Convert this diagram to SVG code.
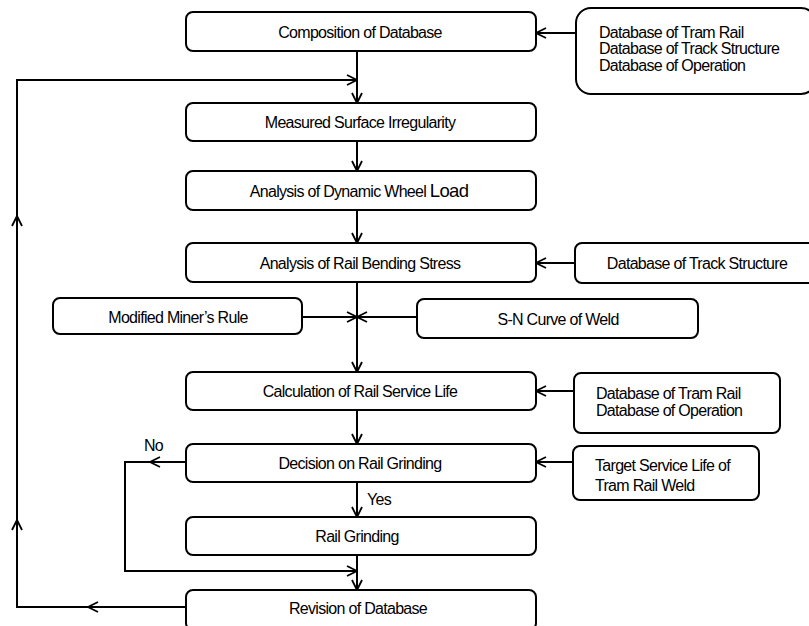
<svg xmlns="http://www.w3.org/2000/svg" width="809" height="626" viewBox="0 0 809 626">
<defs>
<marker id="ah" viewBox="0 0 12 12" refX="11" refY="6" markerWidth="12" markerHeight="12" markerUnits="userSpaceOnUse" orient="auto">
<path d="M1,1 L11,6 L1,11" fill="none" stroke="#000" stroke-width="1.8"/>
</marker>
<style>
.b{fill:#fff;stroke:#000;stroke-width:2}
.t{font-family:"Liberation Sans",Arial,sans-serif;font-size:16px;letter-spacing:-0.7px;fill:#000}
.m{text-anchor:middle}
.c{fill:none;stroke:#000;stroke-width:2}
.a{marker-end:url(#ah)}
</style>
</defs>
<rect width="809" height="626" fill="#fff"/>
<g id="connectors">
<path class="c a" d="M357,51 V103"/>
<path class="c" d="M186,607 H17 V80 H357"/>
<path class="c a" d="M120,607 H88"/>
<path class="c a" d="M17,540 V520"/>
<path class="c a" d="M17,240 V216"/>
<path class="c a" d="M330,80 H357"/>
<path class="c a" d="M357,141 V171"/>
<path class="c a" d="M357,210 V243"/>
<path class="c a" d="M357,282 V372"/>
<path class="c a" d="M302,317 H357"/>
<path class="c a" d="M417,317 H357"/>
<path class="c a" d="M357,410 V444"/>
<path class="c a" d="M357,482 V517"/>
<path class="c a" d="M357,555 V590"/>
<path class="c" d="M186,462 H125 V571 H357"/>
<path class="c a" d="M186,462 H150"/>
<path class="c a" d="M330,571 H357"/>
<path class="c a" d="M576,33 H536"/>
<path class="c a" d="M575,263 H536"/>
<path class="c a" d="M574,391 H536"/>
<path class="c a" d="M573,462 H536"/>
<text class="t" x="144" y="451">No</text>
<text class="t" x="367" y="505">Yes</text>
</g>
<g id="n1"><rect class="b" x="186" y="12" width="350" height="39" rx="7"/><text class="t m" x="360" y="38">Composition of Database</text></g>
<g id="n2"><rect class="b" x="186" y="103" width="350" height="38" rx="7"/><text class="t m" x="360" y="128">Measured Surface Irregularity</text></g>
<g id="n3"><rect class="b" x="186" y="171" width="350" height="39" rx="7"/><text class="t m" x="359" y="197">Analysis of Dynamic Wheel <tspan font-size="18.5">Load</tspan></text></g>
<g id="n4"><rect class="b" x="186" y="243" width="350" height="39" rx="7"/><text class="t m" x="360" y="269">Analysis of Rail Bending Stress</text></g>
<g id="n5"><rect class="b" x="186" y="372" width="350" height="38" rx="7"/><text class="t m" x="360" y="397">Calculation of Rail Service Life</text></g>
<g id="n6"><rect class="b" x="186" y="444" width="350" height="38" rx="7"/><text class="t m" x="360" y="469">Decision on Rail Grinding</text></g>
<g id="n7"><rect class="b" x="186" y="517" width="350" height="38" rx="7"/><text class="t m" x="357" y="542">Rail Grinding</text></g>
<g id="n8"><rect class="b" x="186" y="590" width="350" height="40" rx="7"/><text class="t m" x="358" y="614">Revision of Database</text></g>
<g id="r1"><rect class="b" x="576" y="8" width="240" height="86" rx="15"/><text class="t" x="599" y="38">Database of Tram Rail</text><text class="t" x="599" y="54">Database of Track Structure</text><text class="t" x="599" y="71">Database of Operation</text></g>
<g id="r4"><rect class="b" x="575" y="243" width="240" height="40" rx="7"/><text class="t m" x="697" y="269">Database of Track Structure</text></g>
<g id="mm"><rect class="b" x="53" y="298" width="249" height="36" rx="7"/><text class="t m" x="178" y="323">Modified Miner’s Rule</text></g>
<g id="sn"><rect class="b" x="417" y="299" width="281" height="39" rx="7"/><text class="t m" x="558" y="325">S-N Curve of Weld</text></g>
<g id="r5"><rect class="b" x="574" y="373" width="206" height="60" rx="7"/><text class="t" x="596" y="399">Database of Tram Rail</text><text class="t" x="596" y="416">Database of Operation</text></g>
<g id="r6"><rect class="b" x="573" y="446" width="186" height="54" rx="7"/><text class="t" x="595" y="471">Target Service Life of</text><text class="t" x="595" y="491">Tram Rail Weld</text></g>
</svg>
